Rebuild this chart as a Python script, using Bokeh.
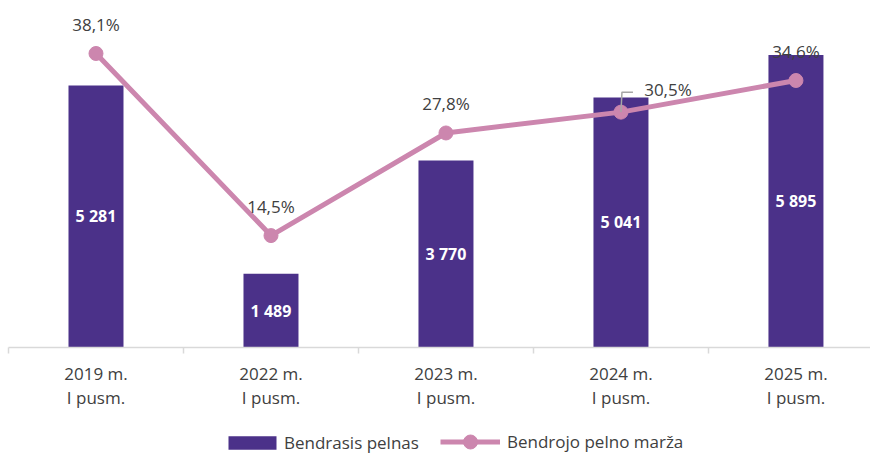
from bokeh.plotting import figure
from bokeh.layouts import column
from bokeh.models import (Range1d, LinearAxis, FixedTicker, Legend, LegendItem,
                          ColumnDataSource, CustomJSTickFormatter)
from bokeh.core.properties import value
from bokeh.embed import file_html
from bokeh.resources import INLINE

# ---- data ----
categories = ["2019 m.\nI pusm.", "2022 m.\nI pusm.", "2023 m.\nI pusm.",
              "2024 m.\nI pusm.", "2025 m.\nI pusm."]
profit = [5281, 1489, 3770, 5041, 5895]          # Bendrasis pelnas
margin = [38.1, 14.5, 27.8, 30.5, 34.6]          # Bendrojo pelno marža, %
series_names = ["Bendrasis pelnas", "Bendrojo pelno marža"]

# ---- derived ----
xs = [i + 0.5 for i in range(len(categories))]
profit_labels = [f"{v:,}".replace(",", " ") for v in profit]
margin_labels = [f"{m:.1f}".replace(".", ",") + "%" for m in margin]

BAR = "#4B3189"
LINE = "#CC86AE"
FONT = "Open Sans"
TXT = "#404040"

W = 870
LEG_H = 40
MAIN_H = 454 - LEG_H
FRAME_H = 339
Y_MAX = 6833
PCT_MAX = 43.93

p = figure(width=W, height=MAIN_H, x_range=Range1d(0, 4.926),
           y_range=Range1d(0, Y_MAX), output_backend="svg",
           toolbar_location=None, x_axis_location=None, y_axis_location=None,
           min_border_left=8, min_border_right=0, min_border_top=8,
           min_border_bottom=MAIN_H - 8 - FRAME_H)
p.extra_y_ranges = {"pct": Range1d(0, PCT_MAX)}
p.grid.visible = False
p.outline_line_color = None

xaxis = LinearAxis(
    ticker=FixedTicker(ticks=xs, minor_ticks=list(range(len(categories) + 1))),
    formatter=CustomJSTickFormatter(args=dict(labels=categories),
                                    code="return labels[Math.floor(tick)]"),
)
xaxis.axis_line_color = "#d9d9d9"
xaxis.axis_line_width = 1.5
xaxis.major_tick_line_color = None
xaxis.major_tick_in = 0
xaxis.major_tick_out = 0
xaxis.minor_tick_line_color = "#d9d9d9"
xaxis.minor_tick_line_width = 1.5
xaxis.minor_tick_in = 0
xaxis.minor_tick_out = 6
xaxis.major_label_standoff = 8
xaxis.major_label_text_font = FONT
xaxis.major_label_text_font_size = "17px"
xaxis.major_label_text_color = TXT
xaxis.major_label_text_line_height = 1.05
p.add_layout(xaxis, "below")

bars = p.vbar(x=xs, top=profit, width=55 / 175, fill_color=BAR, line_color=None)

bar_src = ColumnDataSource(dict(x=xs, y=[v / 2 for v in profit], t=profit_labels))
p.text(x="x", y="y", text="t", source=bar_src, text_align="center",
       text_baseline="middle", text_color="white", text_font=value(FONT),
       text_font_size="16px", text_font_style="bold")

line = p.line(xs, margin, y_range_name="pct", line_color=LINE, line_width=5)
dots = p.scatter(xs, margin, y_range_name="pct", size=14, fill_color=LINE,
                 line_color=LINE)

# leader line for the shifted 30,5% label
px = PCT_MAX / FRAME_H
k = 3
p.multi_line(xs=[[xs[k], xs[k] + 1 / 175, xs[k] + 12 / 175]],
             ys=[[margin[k], margin[k] + 20 * px, margin[k] + 20 * px]],
             y_range_name="pct", line_color="#A6A6A6", line_width=1.5)

lab_src = ColumnDataSource(dict(x=xs, y=margin, t=margin_labels,
                                xo=[0, 0, 0, 47, 0], yo=[-29, -29, -29, -23, -29]))
p.text(x="x", y="y", text="t", source=lab_src, x_offset="xo", y_offset="yo",
       y_range_name="pct", text_align="center", text_baseline="middle",
       text_color=TXT, text_font=value(FONT), text_font_size="17px")

# ---- legend strip (proxy renderers placed outside the strip's visible range) ----
q = figure(width=W, height=LEG_H, x_range=Range1d(0, 1), y_range=Range1d(0, 1),
           output_backend="svg", toolbar_location=None,
           x_axis_location=None, y_axis_location=None,
           min_border_left=0, min_border_right=0, min_border_top=0,
           min_border_bottom=0)
q.grid.visible = False
q.outline_line_color = None
lb = q.vbar(x=[5], top=[5], bottom=[4], width=1, fill_color=BAR, line_color=None)
ll = q.line(x=[5, 6], y=[5, 5], line_color=LINE, line_width=5)
ld = q.scatter(x=[5], y=[5], size=14, fill_color=LINE, line_color=LINE)

common = dict(orientation="horizontal", border_line_color=None,
              background_fill_alpha=0, label_text_font=FONT,
              label_text_font_size="17px", label_text_color=TXT,
              padding=0, margin=0, glyph_width=60)
CENTER = 12  # legend row centre, px above strip bottom
leg1 = Legend(items=[LegendItem(label=series_names[0], renderers=[lb])],
              location=(214, CENTER - 12), glyph_height=17, label_standoff=2,
              **common)
leg2 = Legend(items=[LegendItem(label=series_names[1], renderers=[ll, ld])],
              location=(432, CENTER - 17), glyph_height=35, label_standoff=7,
              **common)
q.add_layout(leg1, "center")
q.add_layout(leg2, "center")

open("out.html", "w").write(file_html(column(p, q, spacing=0), INLINE))
